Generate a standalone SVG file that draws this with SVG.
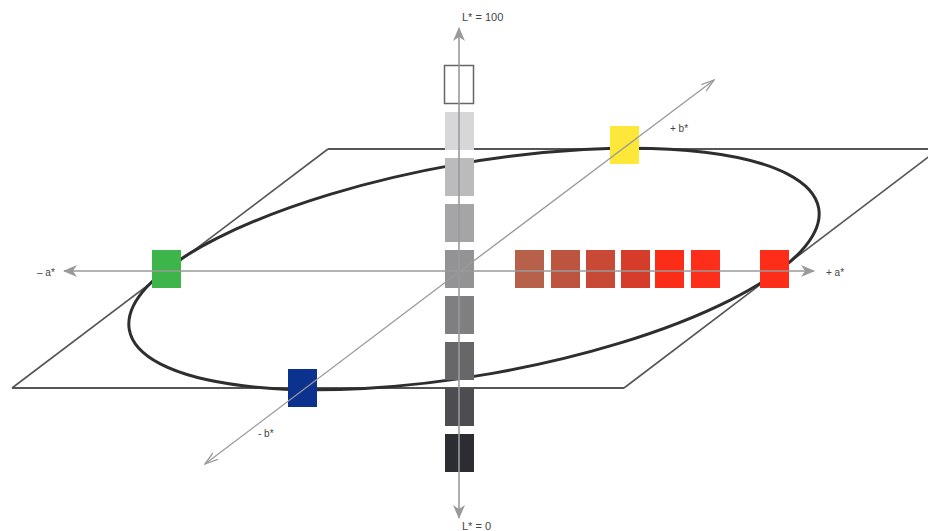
<svg xmlns="http://www.w3.org/2000/svg" width="928" height="531" viewBox="0 0 928 531">
<style>
.plane{fill:none;stroke:#555;stroke-width:1.6}
.edge{fill:none;stroke:#555;stroke-width:2.2}
.ell{fill:none;stroke:#2e2e30;stroke-width:3}
.axis{stroke:#9a9a9a;stroke-width:1.6;fill:none}
.axisb{stroke:#9a9a9a;stroke-width:1.3;fill:none}
.lbl{font-family:"Liberation Sans",Arial,sans-serif;font-size:11px;fill:#444}
.sm{font-size:10px}
</style>
<defs>
<marker id="arr" viewBox="0 0 14 12" refX="13" refY="6" markerWidth="14" markerHeight="12" markerUnits="userSpaceOnUse" orient="auto">
<path d="M0,0 L14,6 L0,12 L4,6 z" fill="#9a9a9a"/>
</marker>
<marker id="arrb" viewBox="0 0 14 10" refX="13" refY="5" markerWidth="14" markerHeight="10" markerUnits="userSpaceOnUse" orient="auto">
<path d="M0,1 L13,5 L0,9" fill="none" stroke="#9a9a9a" stroke-width="1.3"/>
</marker>
</defs>
<rect width="928" height="531" fill="#fff"/>
<g id="plane">
<line class="plane" x1="328" y1="149" x2="12" y2="388"/>
<line class="plane" x1="939" y1="149" x2="624" y2="388"/>
<line class="edge" x1="328" y1="149" x2="939" y2="149"/>
<line class="edge" x1="12" y1="388" x2="624" y2="388"/>
</g>
<g id="ellipse">
<ellipse class="ell" cx="474" cy="269" rx="350" ry="106" transform="rotate(-10 474 269)"/>
</g>
<g id="lightness">
<rect x="444.5" y="65.5" width="29" height="38" fill="#fff" stroke="#666" stroke-width="1.5"/>
<rect x="445" y="112" width="29" height="38" fill="#d7d7d9"/>
<rect x="445" y="158" width="29" height="38" fill="#bbbbbd"/>
<rect x="445" y="204" width="29" height="38" fill="#a5a5a7"/>
<rect x="445" y="250" width="29" height="38" fill="#939395"/>
<rect x="445" y="296" width="29" height="38" fill="#7f7f82"/>
<rect x="445" y="342" width="29" height="38" fill="#67676a"/>
<rect x="445" y="388" width="29" height="38" fill="#4d4d51"/>
<rect x="445" y="434" width="29" height="38" fill="#2b2d32"/>
</g>
<g id="reds">
<rect x="515" y="250" width="29" height="38" fill="#b8614a"/>
<rect x="551" y="250" width="29" height="38" fill="#bd5440"/>
<rect x="586" y="250" width="29" height="38" fill="#c84a36"/>
<rect x="621" y="250" width="29" height="38" fill="#d53d2a"/>
<rect x="655" y="250" width="29" height="38" fill="#fb2d18"/>
<rect x="691" y="250" width="29" height="38" fill="#fd2f1a"/>
</g>
<g id="red"><rect x="760" y="250" width="29" height="38" fill="#fe2d19"/></g>
<g id="green"><rect x="152" y="250" width="29" height="38" fill="#3db54a"/></g>
<g id="yellow"><rect x="610" y="126" width="29" height="38" fill="#fde83a"/></g>
<g id="blue"><rect x="288" y="369" width="29" height="38" fill="#0c3290"/></g>
<g id="connectors">
<line class="axis" x1="459" y1="270" x2="459" y2="28" marker-end="url(#arr)"/>
<line class="axis" x1="459" y1="270" x2="459" y2="518" marker-end="url(#arr)"/>
<line class="axis" x1="459" y1="271" x2="64" y2="271" marker-end="url(#arr)"/>
<line class="axis" x1="459" y1="271" x2="814" y2="271" marker-end="url(#arr)"/>
<line class="axisb" x1="459" y1="272" x2="714" y2="80" marker-end="url(#arrb)"/>
<line class="axisb" x1="459" y1="272" x2="205" y2="464" marker-end="url(#arrb)"/>
</g>
<g id="labels">
<text class="lbl" x="462" y="21">L* = 100</text>
<text class="lbl" x="462" y="530">L* = 0</text>
<text class="lbl sm" x="37" y="276">– a*</text>
<text class="lbl sm" x="826" y="276">+ a*</text>
<text class="lbl sm" x="670" y="132">+ b*</text>
<text class="lbl sm" x="258" y="437">- b*</text>
</g>
</svg>
